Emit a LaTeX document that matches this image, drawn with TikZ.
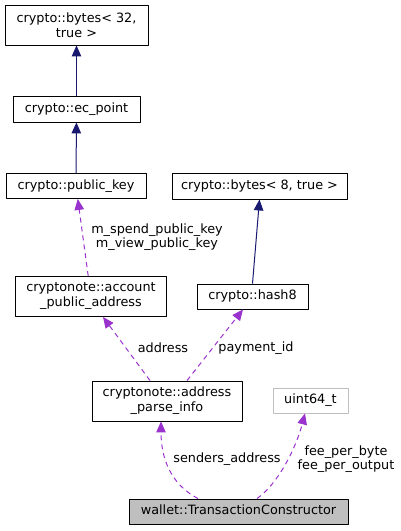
\documentclass[tikz,border=0pt]{standalone}
\usepackage{fontspec}
\setmainfont{DejaVu Sans}
\usepackage{tikz}
\usetikzlibrary{arrows.meta}
\definecolor{navyedge}{HTML}{191970}
\definecolor{orchid}{HTML}{9A32CD}
\definecolor{grayfill}{HTML}{BFBFBF}
\tikzset{
  every picture/.style={line join=round, >={Triangle[length=11pt,width=9.5pt]}},
  cls/.style={draw=black, line width=0.9pt, inner sep=0pt, align=center, font=\fontsize{12.8}{15}\selectfont},
  cls1/.style={cls, text height=9.4pt, text depth=2.6pt},
  inh/.style={navyedge, line width=1pt, ->},
  usage/.style={orchid, line width=1pt, dash pattern=on 5pt off 4pt, ->},
  lbl/.style={inner sep=0pt, align=center, font=\fontsize{12.8}{14.5}\selectfont},
}

\begin{document}
\begin{tikzpicture}[x=1pt,y=-1pt]
\useasboundingbox (0,0) rectangle (401,531);
% classes
\node[cls, minimum width=143pt, minimum height=40pt] (bytes32) at (76.5,25) {crypto::bytes< 32,\\true >};
\node[cls1, minimum width=127pt, minimum height=26pt] (ecpoint) at (76.5,109) {crypto::ec\_point};
\node[cls1, minimum width=140pt, minimum height=25pt] (pubkey) at (76,186) {crypto::public\_key};
\node[cls1, minimum width=175pt, minimum height=26pt] (bytes8) at (259.5,186) {crypto::bytes< 8, true >};
\node[cls, minimum width=151pt, minimum height=40pt] (pubaddr) at (91,296.5) {cryptonote::account\\\_public\_address};
\node[cls1, minimum width=111pt, minimum height=25pt] (hash8) at (252.5,296.5) {crypto::hash8};
\node[cls, minimum width=150pt, minimum height=40pt] (parseinfo) at (167,401) {cryptonote::address\\\_parse\_info};
\node[cls1, draw=grayfill, minimum width=75pt, minimum height=25pt] (uint) at (310.5,400.5) {uint64\_t};
\node[cls1, fill=grayfill, minimum width=219pt, minimum height=25pt] (ctor) at (238.5,511.5) {wallet::TransactionConstructor};
% inheritance
\draw[inh] (ecpoint) -- (bytes32);
\draw[inh] (pubkey) -- (ecpoint);
\draw[inh] (hash8.north) -- (bytes8.south);
% members
\draw[usage] (pubaddr) -- (pubkey);
\draw[usage] ([xshift=-17pt]parseinfo.north) -- ([xshift=12pt]pubaddr.south);
\draw[usage] ([xshift=20pt]parseinfo.north) -- ([xshift=-9.5pt]hash8.south);
\draw[usage] ([xshift=-40.5pt]ctor.north) .. controls (172,485) and (161,460) .. ([xshift=-6pt]parseinfo.south);
\draw[usage] ([xshift=18.5pt]ctor.north) .. controls (278,484) and (296,448) .. ([xshift=-5.5pt]uint.south);
% labels
\node[lbl] (lkeys) at (157,237) {m\_spend\_public\_key\\m\_view\_public\_key};
\node[lbl] (laddr) at (163,348) {address};
\node[lbl] (lpay) at (256,348) {payment\_id};
\node[lbl] (lsend) at (227,459) {senders\_address};
\node[lbl] (lfee) at (346,459) {fee\_per\_byte\\fee\_per\_output};
\end{tikzpicture}
\end{document}
